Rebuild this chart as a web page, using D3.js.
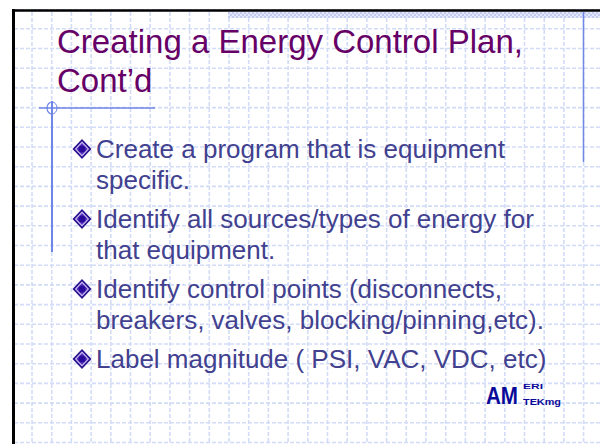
<!DOCTYPE html>
<html>
<head>
<meta charset="utf-8">
<script src="https://cdn.jsdelivr.net/npm/d3@7"></script>
<style>
  html, body { margin: 0; padding: 0; background: #fff; }
  svg { display: block; }
</style>
</head>
<body>
<svg id="slide"></svg>
<script>
var titleLines = ["Creating a Energy Control Plan,", "Cont\u2019d"];
var bullets = [
    ["Create a program that is equipment", "specific."],
    ["Identify all sources/types of energy for", "that equipment."],
    ["Identify control points (disconnects,", "breakers, valves, blocking/pinning,etc)."],
    ["Label magnitude ( PSI, VAC, VDC, etc)"]
];
var gridCols = 30, gridRows = 22;

var width = 600, height = 444;
var svg = d3.select('#slide').attr('width', width).attr('height', height);

// grid scales (one step ~19.7px)
var gx = d3.scaleLinear().domain([0, 1]).range([32, 51.7]);
var gy = d3.scaleLinear().domain([0, 1]).range([28.8, 48.5]);

var defs = svg.append('defs');
var pat = defs.append('pattern')
    .attr('id', 'hatch')
    .attr('width', 4).attr('height', 4)
    .attr('patternUnits', 'userSpaceOnUse');
pat.append('rect').attr('width', 4).attr('height', 4).attr('fill', '#e3e8fb');
pat.append('rect').attr('width', 2).attr('height', 2).attr('fill', '#c2ccf2');
pat.append('rect').attr('x', 2).attr('y', 2).attr('width', 2).attr('height', 2).attr('fill', '#c2ccf2');

var bg = svg.append('g');

// grid
bg.selectAll('.vline')
    .data(d3.range(-1, gridCols))
    .enter().append('line')
    .attr('class', 'vline')
    .attr('x1', function (d) { return gx(d); })
    .attr('x2', function (d) { return gx(d); })
    .attr('y1', 12).attr('y2', height)
    .attr('stroke', '#d3dcf7')
    .attr('stroke-width', 1.6)
    .attr('stroke-dasharray', '4,2');

bg.selectAll('.hline')
    .data(d3.range(-1, gridRows))
    .enter().append('line')
    .attr('class', 'hline')
    .attr('y1', function (d) { return gy(d); })
    .attr('y2', function (d) { return gy(d); })
    .attr('x1', 14).attr('x2', width)
    .attr('stroke', '#d3dcf7')
    .attr('stroke-width', 1.6)
    .attr('stroke-dasharray', '4,2');

// hatched band top right
bg.append('rect')
    .attr('x', 228).attr('y', 12)
    .attr('width', width - 228).attr('height', 6)
    .attr('fill', 'url(#hatch)');

// white margin outside the frame
bg.append('rect').attr('x', 0).attr('y', 0).attr('width', width).attr('height', 9).attr('fill', '#fff');
bg.append('rect').attr('x', 0).attr('y', 0).attr('width', 12).attr('height', height).attr('fill', '#fff');

// black frame
bg.append('line').attr('x1', 12).attr('x2', width).attr('y1', 10.5).attr('y2', 10.5)
    .attr('stroke', '#000').attr('stroke-width', 2.5);
bg.append('line').attr('x1', 13.5).attr('x2', 13.5).attr('y1', 9).attr('y2', height)
    .attr('stroke', '#000').attr('stroke-width', 3);

// blue accent lines
var accent = '#6f86e6';
bg.append('line').attr('x1', 583.5).attr('x2', 583.5).attr('y1', 12).attr('y2', 162)
    .attr('stroke', accent).attr('stroke-width', 1.5);
bg.append('line').attr('x1', 39).attr('x2', 155).attr('y1', 108).attr('y2', 108)
    .attr('stroke', accent).attr('stroke-width', 1.5);
bg.append('line').attr('x1', 52).attr('x2', 52).attr('y1', 101).attr('y2', 252)
    .attr('stroke', accent).attr('stroke-width', 2);
bg.append('path').attr('d', 'M52,102 A5,6 0 0,0 52,114')
    .attr('fill', 'none').attr('stroke', accent).attr('stroke-width', 1.2);
bg.append('path').attr('d', 'M52,102 A5,6 0 0,1 52,114')
    .attr('fill', 'none').attr('stroke', accent).attr('stroke-width', 1);

// title
svg.append('g').selectAll('text')
    .data(titleLines)
    .enter().append('text')
    .attr('x', 57)
    .attr('y', function (d, i) { return 53 + i * 39; })
    .attr('font-family', 'Liberation Sans, Arial, sans-serif')
    .attr('font-size', 33)
    .attr('fill', '#660066')
    .text(function (d) { return d; });

// bullets
var lineStep = 31, bulletGap = 39;
var lines = [];
var yy = 158;
bullets.forEach(function (b) {
    b.forEach(function (t, li) {
        lines.push({text: t, y: yy + li * lineStep, first: li === 0});
    });
    yy += (b.length - 1) * lineStep + bulletGap;
});

var body = svg.append('g');
body.selectAll('text')
    .data(lines)
    .enter().append('text')
    .attr('x', 96)
    .attr('y', function (d) { return d.y; })
    .attr('font-family', 'Liberation Sans, Arial, sans-serif')
    .attr('font-size', 26)
    .attr('fill', '#41418f')
    .text(function (d) { return d.text; });

var marks = body.selectAll('.mark')
    .data(lines.filter(function (d) { return d.first; }))
    .enter().append('g')
    .attr('class', 'mark')
    .attr('transform', function (d) { return 'translate(82,' + (d.y - 9) + ')'; });
marks.append('path').attr('d', 'M0,-10 L9.5,0 L0,10 L-9.5,0 Z').attr('fill', '#2a1290');
marks.append('path').attr('d', 'M0,-7.5 L7.1,0 L0,7.5 L-7.1,0 Z').attr('fill', '#d6ccf4');
marks.append('path').attr('d', 'M0,-6 L5.7,0 L0,6 L-5.7,0 Z').attr('fill', '#5b34c0');
marks.append('circle').attr('r', 3.6).attr('fill', '#2a0a9a');

// logo
var logo = svg.append('g').attr('fill', '#0a0a9a').attr('font-family', 'Liberation Sans, Arial, sans-serif');
logo.append('text').attr('x', 486).attr('y', 404).attr('font-size', 24).attr('font-weight', 'bold')
    .attr('textLength', 32).attr('lengthAdjust', 'spacingAndGlyphs').text('AM');
logo.append('text').attr('x', 523).attr('y', 389).attr('font-size', 8).attr('font-weight', 'bold')
    .attr('textLength', 20).attr('lengthAdjust', 'spacingAndGlyphs').text('ERI');
logo.append('text').attr('x', 523).attr('y', 405).attr('font-size', 9).attr('font-weight', 'bold')
    .attr('textLength', 38).attr('lengthAdjust', 'spacingAndGlyphs').text('TEKmg');
</script>
</body>
</html>
